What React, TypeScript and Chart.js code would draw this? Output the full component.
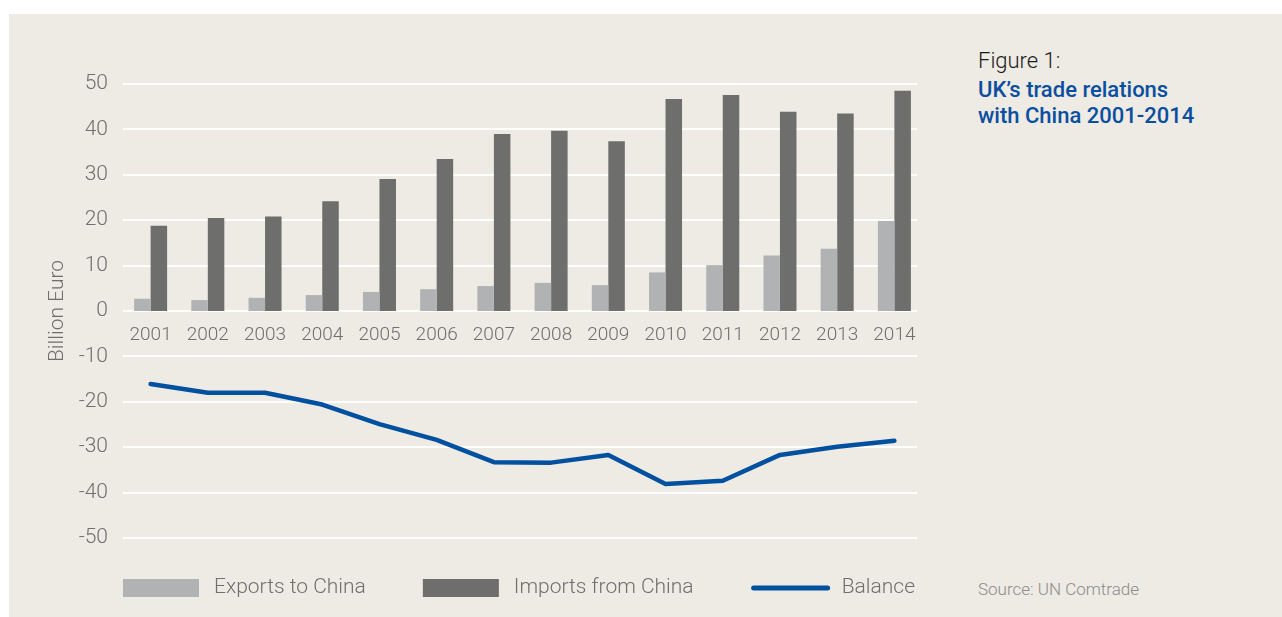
import React, { useEffect, useRef } from "react";
import { Chart, registerables } from "chart.js";

Chart.register(...registerables);

const years = ["2001", "2002", "2003", "2004", "2005", "2006", "2007", "2008", "2009", "2010", "2011", "2012", "2013", "2014"];
const exportsToChina = [2.7, 2.4, 2.9, 3.5, 4.2, 4.8, 5.5, 6.2, 5.7, 8.5, 10.1, 12.2, 13.7, 19.8];
const importsFromChina = [18.8, 20.5, 20.8, 24.2, 29.1, 33.5, 39.0, 39.7, 37.4, 46.7, 47.6, 43.9, 43.5, 48.5];
const balance = [-16.1, -18.0, -18.0, -20.6, -24.9, -28.4, -33.3, -33.4, -31.7, -38.1, -37.4, -31.7, -29.9, -28.6];
const seriesLabels = ["Exports to China", "Imports from China", "Balance"];
const yAxisTitle = "Billion Euro";
const figureLabel = "Figure 1:";
const titleLines = ["UK\u2019s trade relations", "with China 2001-2014"];
const sourceText = "Source: UN Comtrade";

const FONT = "Roboto, 'Noto Sans', sans-serif";
const TEXT_GREY = "#6f6f6f";
const EXPORT_COLOR = "#b1b2b4";
const IMPORT_COLOR = "#6e6e6c";
const BALANCE_COLOR = "#0050a0";
const PANEL_BG = "#eeeae4";

const gridPlugin = {
  id: "shortGrid",
  beforeDatasetsDraw(chart: any) {
    const { ctx, chartArea, scales } = chart;
    const y = scales.y;
    ctx.save();
    ctx.strokeStyle = "#ffffff";
    ctx.lineWidth = 2;
    y.ticks.forEach((t: any) => {
      const py = Math.round(y.getPixelForValue(t.value));
      ctx.beginPath();
      ctx.moveTo(chartArea.left + 1, py);
      ctx.lineTo(chartArea.right - 6, py);
      ctx.stroke();
    });
    ctx.restore();
  },
};

const legendPlugin = {
  id: "spreadLegend",
  afterDraw(chart: any) {
    const { ctx, chartArea } = chart;
    const left = chartArea.left + 1;
    const right = chartArea.right - 8;
    const swatchW = 76;
    const swatchH = 18;
    const textGap = 15;
    ctx.save();
    ctx.font = `300 21px ${FONT}`;
    const items = chart.data.datasets.map((ds: any) => ({
      label: ds.label,
      isLine: ds.type === "line",
      color: ds.type === "line" ? ds.borderColor : ds.backgroundColor,
    }));
    const widths = items.map((it: any) => swatchW + textGap + ctx.measureText(it.label).width);
    const total = widths.reduce((a: number, b: number) => a + b, 0);
    const gap = (right - left - total) / (items.length - 1);
    const cy = chartArea.bottom + 50;
    let x = left;
    items.forEach((it: any, i: number) => {
      if (it.isLine) {
        ctx.strokeStyle = it.color;
        ctx.lineWidth = 5;
        ctx.lineCap = "round";
        ctx.beginPath();
        ctx.moveTo(x + 3, cy);
        ctx.lineTo(x + swatchW + 1, cy);
        ctx.stroke();
      } else {
        ctx.fillStyle = it.color;
        ctx.fillRect(x, cy - swatchH / 2, swatchW, swatchH);
      }
      ctx.fillStyle = TEXT_GREY;
      ctx.textBaseline = "middle";
      ctx.textAlign = "left";
      ctx.fillText(it.label, x + swatchW + textGap, cy);
      x += widths[i] + gap;
    });
    ctx.restore();
  },
};

export default function App() {
  const canvasRef = useRef<HTMLCanvasElement | null>(null);

  useEffect(() => {
    if (!canvasRef.current) return;
    const chart = new Chart(canvasRef.current, {
      type: "bar",
      data: {
        labels: years,
        datasets: [
          {
            type: "bar",
            label: seriesLabels[0],
            data: exportsToChina,
            backgroundColor: EXPORT_COLOR,
            order: 1,
          },
          {
            type: "bar",
            label: seriesLabels[1],
            data: importsFromChina,
            backgroundColor: IMPORT_COLOR,
            order: 1,
          },
          {
            type: "line",
            label: seriesLabels[2],
            data: balance,
            borderColor: BALANCE_COLOR,
            backgroundColor: BALANCE_COLOR,
            borderWidth: 4.5,
            borderCapStyle: "round",
            borderJoinStyle: "round",
            pointRadius: 0,
            tension: 0,
            order: 0,
          } as any,
        ],
      },
      options: {
        responsive: false,
        animation: false,
        events: [],
        layout: { padding: { top: 70, right: 46, bottom: 79, left: 0 } },
        datasets: {
          bar: { categoryPercentage: 0.577, barPercentage: 1 },
        },
        plugins: {
          legend: { display: false },
          tooltip: { enabled: false },
          title: { display: false },
        },
        scales: {
          x: {
            type: "category",
            position: { y: 0 } as any,
            offset: true,
            grid: { display: false, drawTicks: false },
            border: { display: false },
            ticks: {
              color: TEXT_GREY,
              font: { family: FONT, size: 19, weight: "300" as any },
              padding: 13,
              maxRotation: 0,
              autoSkip: false,
            },
          },
          y: {
            min: -50,
            max: 50,
            grid: { display: false, drawTicks: false },
            border: { display: false },
            ticks: {
              stepSize: 10,
              color: TEXT_GREY,
              font: { family: FONT, size: 21, weight: "300" as any },
              padding: 14,
            },
            title: {
              display: true,
              text: yAxisTitle,
              color: TEXT_GREY,
              font: { family: FONT, size: 21, weight: "300" as any },
              padding: { top: 36, bottom: 0 },
            },
            afterFit(scale: any) {
              scale.width = 113;
            },
          },
        },
      },
      plugins: [gridPlugin, legendPlugin],
    });
    return () => chart.destroy();
  }, []);

  return (
    <div
      style={{
        position: "absolute",
        left: 9,
        top: 14,
        width: 1273,
        height: 603,
        background: PANEL_BG,
        overflow: "hidden",
        fontFamily: FONT,
      }}
    >
      <canvas ref={canvasRef} width={960} height={603} style={{ position: "absolute", left: 0, top: 0 }} />
      <div style={{ position: "absolute", left: 969, top: 34, fontSize: 22, lineHeight: "26px" }}>
        <div style={{ color: "#1a1a1a", fontWeight: 300, marginBottom: 3 }}>{figureLabel}</div>
        {titleLines.map((t) => (
          <div key={t} style={{ color: "#0a4f9f", fontWeight: 500 }}>
            {t}
          </div>
        ))}
      </div>
      <div
        style={{
          position: "absolute",
          left: 969,
          top: 564,
          fontSize: 17,
          lineHeight: "22px",
          color: "#8c8c8c",
          fontWeight: 300,
        }}
      >
        {sourceText}
      </div>
    </div>
  );
}
